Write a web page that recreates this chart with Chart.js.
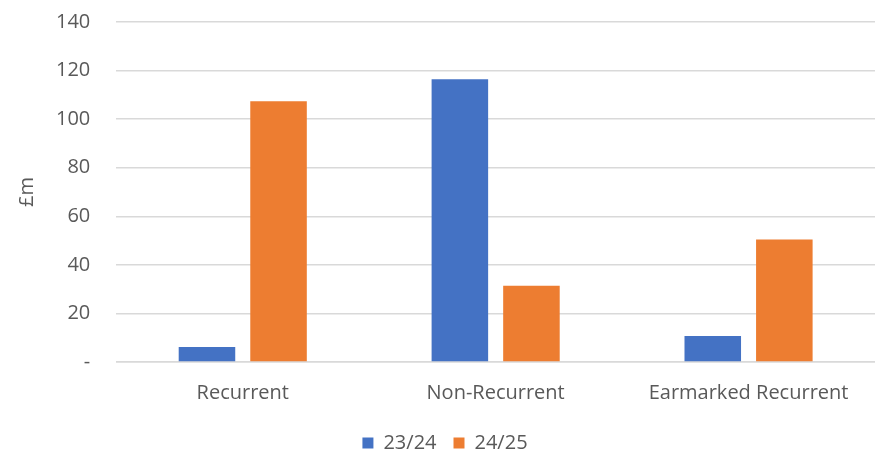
<!DOCTYPE html>
<html>
<head>
<meta charset="utf-8">
<script src="https://cdn.jsdelivr.net/npm/chart.js@4"></script>
<style>
  html, body { margin: 0; padding: 0; background: #fff; }
  #wrap { width: 875px; height: 455px; }
</style>
</head>
<body>
<div id="wrap"><canvas id="chart-funding"></canvas></div>
<script>
var categories = ['Recurrent', 'Non-Recurrent', 'Earmarked Recurrent'];
var values2324 = [6.2, 116.4, 10.7];
var values2425 = [107.4, 31.4, 50.4];
var yTicks = [0, 20, 40, 60, 80, 100, 120, 140];

var textColor = '#595959';
var fontFamily = "'Open Sans', 'Noto Sans', sans-serif";

var ctx = document.getElementById('chart-funding');
new Chart(ctx, {
    type: 'bar',
    data: {
        labels: categories,
        datasets: [{
            label: '23/24',
            data: values2324,
            backgroundColor: '#4472c4',
            categoryPercentage: 0.566,
            barPercentage: 0.79
        },
        {
            label: '24/25',
            data: values2425,
            backgroundColor: '#ed7d31',
            categoryPercentage: 0.566,
            barPercentage: 0.79
        }]
    },
    options: {
        responsive: true,
        maintainAspectRatio: false,
        animation: false,
        layout: { padding: { top: 0, right: -4, left: 11, bottom: -8 } },
        plugins: {
            legend: {
                position: 'bottom',
                labels: {
                    color: textColor,
                    font: { family: fontFamily, size: 20 },
                    boxWidth: 11,
                    boxHeight: 11,
                    padding: 17
                }
            },
            tooltip: { enabled: false }
        },
        scales: {
            x: {
                grid: { display: false },
                border: { color: '#d9d9d9', width: 1.5 },
                ticks: {
                    color: textColor,
                    font: { family: fontFamily, size: 20 },
                    padding: 11
                }
            },
            y: {
                min: 0,
                max: 140,
                afterBuildTicks: function (axis) {
                    axis.ticks = yTicks.map(function (v) { return { value: v }; });
                },
                grid: {
                    color: '#d9d9d9',
                    lineWidth: 1.5,
                    drawTicks: true,
                    tickLength: 16,
                    tickColor: 'rgba(0,0,0,0)'
                },
                border: { display: false },
                ticks: {
                    color: textColor,
                    font: { family: fontFamily, size: 20 },
                    padding: 10,
                    callback: function (v) { return v === 0 ? '-' : v; }
                },
                title: {
                    display: true,
                    text: '£m',
                    color: textColor,
                    font: { family: fontFamily, size: 20 },
                    padding: { top: 4, bottom: 7 }
                }
            }
        }
    }
});
</script>
</body>
</html>
